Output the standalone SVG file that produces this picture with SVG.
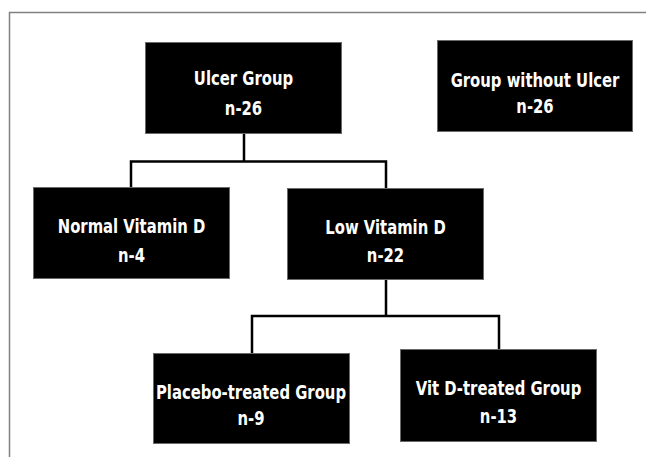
<svg xmlns="http://www.w3.org/2000/svg" width="646" height="457" viewBox="0 0 646 457">
<style>
.box{fill:#000;stroke:#6a6a6a;stroke-width:1}
.t{fill:#fff;font-family:"DejaVu Sans Condensed","DejaVu Sans",sans-serif;font-stretch:condensed;font-weight:bold;font-size:16.5px;text-anchor:middle}
.c{fill:none;stroke:#000;stroke-width:2.5}
.frame{fill:none;stroke:#808080;stroke-width:1.5}
</style>
<rect width="646" height="457" fill="#fff"/>
<path class="frame" d="M9.5,457 V12.5 H646"/>
<g id="connectors">
<path class="c" d="M244,134 V161.5 M131,187 V161.5 H386 V188"/>
<path class="c" d="M386,280 V316 M252,353 V316 H499 V349"/>
</g>
<g id="ulcer">
<rect class="box" x="145.5" y="42.5" width="196" height="91"/>
<text class="t" transform="translate(243.5,85) scale(1,1.15)" font-size="17">Ulcer Group</text>
<text class="t" transform="translate(243.5,115) scale(1,1.15)" font-size="17">n-26</text>
</g>
<g id="without">
<rect class="box" x="437.5" y="40.5" width="195" height="91"/>
<text class="t" transform="translate(535,87) scale(1,1.15)" font-size="17.5">Group without Ulcer</text>
<text class="t" transform="translate(535,113) scale(1,1.15)" font-size="17.5">n-26</text>
</g>
<g id="normal">
<rect class="box" x="33.5" y="187.5" width="196" height="91"/>
<text class="t" transform="translate(131.5,233) scale(1,1.15)" font-size="17">Normal Vitamin D</text>
<text class="t" transform="translate(131.5,262) scale(1,1.15)" font-size="17">n-4</text>
</g>
<g id="low">
<rect class="box" x="287.5" y="188.5" width="196" height="91"/>
<text class="t" transform="translate(385.5,234) scale(1,1.15)">Low Vitamin D</text>
<text class="t" transform="translate(385.5,262) scale(1,1.15)">n-22</text>
</g>
<g id="placebo">
<rect class="box" x="153.5" y="353.5" width="196" height="90"/>
<text class="t" transform="translate(251,399) scale(1,1.15)" font-size="16">Placebo-treated Group</text>
<text class="t" transform="translate(251,425) scale(1,1.15)">n-9</text>
</g>
<g id="vitd">
<rect class="box" x="400.5" y="349.5" width="196" height="92"/>
<text class="t" transform="translate(498.5,395) scale(1,1.15)">Vit D-treated Group</text>
<text class="t" transform="translate(498.5,423) scale(1,1.15)">n-13</text>
</g>
</svg>
